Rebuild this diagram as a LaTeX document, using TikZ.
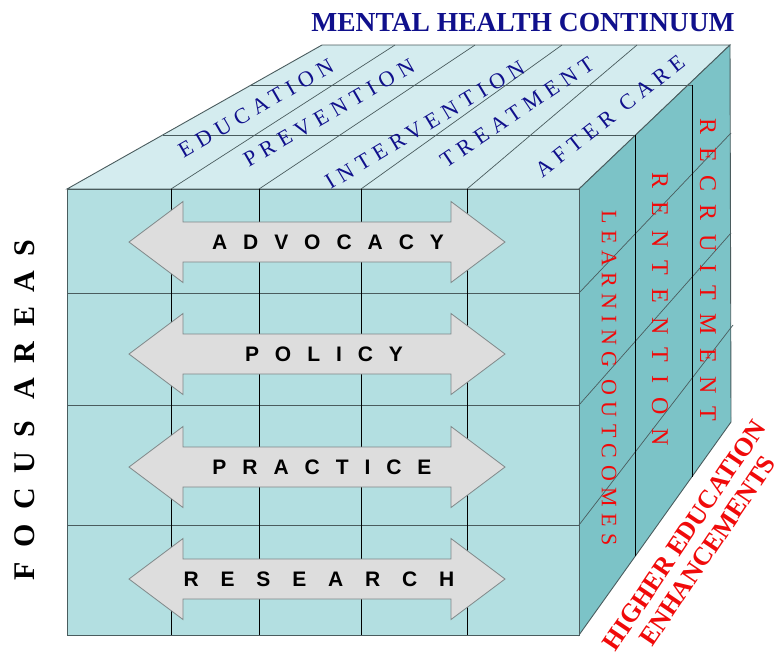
\documentclass[tikz,border=0pt]{standalone}
\usepackage{fontspec}
\setmainfont{Liberation Serif}
\newfontfamily\arrowfont{Liberation Sans}

\definecolor{topside}{HTML}{D4ECEF}
\definecolor{frontside}{HTML}{B3DFE1}
\definecolor{rightside}{HTML}{7CC3C7}
\definecolor{edgegray}{HTML}{4A5C5E}
\definecolor{arrowfill}{HTML}{DDDDDD}
\definecolor{arrowline}{HTML}{7F8788}
\definecolor{navytext}{HTML}{10108C}
\definecolor{redtext}{HTML}{F00A0A}

\tikzset{
  facefill/.style={fill=#1, draw=edgegray, line width=0.9pt},
  gridline/.style={draw=edgegray, line width=0.7pt},
  blackline/.style={draw=black, line width=0.7pt},
  arrowbox/.style={fill=arrowfill, draw=arrowline, line width=0.8pt},
  toplabel/.style={text=navytext, inner sep=0pt,
    font=\fontsize{22}{24}\selectfont\addfontfeature{LetterSpace=28}},
  sidelabel/.style 2 args={text=redtext, inner sep=0pt, rotate=-90,
    font=\fontsize{#1}{#1}\selectfont\addfontfeature{LetterSpace=#2}}
}

\begin{document}
\begin{tikzpicture}[x=1pt, y=-1pt]
  \useasboundingbox (0,0) rectangle (775,654);

  % corners of the cube
  \coordinate (ftl) at (67,189);
  \coordinate (ftr) at (579,189);
  \coordinate (fbl) at (67,635);
  \coordinate (fbr) at (579,635);
  \coordinate (btl) at (322,45);
  \coordinate (btr) at (730,45);
  \coordinate (bbr) at (731,422);

  % the three faces
  \filldraw[facefill=topside] (ftl) -- (btl) -- (btr) -- (ftr) -- cycle;
  \filldraw[facefill=rightside] (ftr) -- (btr) -- (bbr) -- (fbr) -- cycle;
  \filldraw[facefill=frontside] (ftl) rectangle (fbr);

  % top face
  \draw[gridline] (163,135) -- (635,135);
  \draw[gridline] (251,85) -- (692,85);
  \draw[gridline] (171,189) -- (395,45);
  \draw[gridline] (259,189) -- (475,45);
  \draw[gridline] (361,189) -- (562,45);
  \draw[gridline] (467,189) -- (637,45);

  % right face
  \draw[gridline] (579,293) -- (731,133);
  \draw[gridline] (579,405) -- (731,233);
  \draw[gridline] (579,525) -- (733,325);
  \draw[blackline] (635,135) -- (635,556);
  \draw[blackline] (692,85) -- (692,477);

  % front face
  \foreach \yy in {293,405,525}
    \draw[gridline] (67,\yy) -- (579,\yy);
  \foreach \xx in {171,259,361,467}
    \draw[blackline] (\xx,189) -- (\xx,635);

  % focus area arrows
  \foreach \yy/\lbl/\ls/\cx [count=\i] in {242/ADVOCACY/76/328, 354/POLICY/76/324,
      467/PRACTICE/76/322, 579/RESEARCH/104/319} {
    \filldraw[arrowbox] (129,\yy) -- (183,{\yy-40.5}) -- (183,{\yy-20}) -- (451,{\yy-20})
      -- (451,{\yy-40.5}) -- (505,\yy) -- (451,{\yy+40.5}) -- (451,{\yy+20})
      -- (183,{\yy+20}) -- (183,{\yy+40.5}) -- cycle;
    \node[inner sep=0pt, font=\arrowfont\bfseries\fontsize{21}{24}\selectfont\addfontfeature{LetterSpace=\ls}]
      (area\i) at (\cx,\yy) {\lbl};
  }

  % continuum labels on top
  \node[toplabel, rotate=30] (education) at (256,108) {EDUCATION};
  \node[toplabel, rotate=30] (prevention) at (329,113) {PREVENTION};
  \node[toplabel, rotate=31] (intervention) at (425,125) {INTERVENTION};
  \node[toplabel, rotate=34] (treatment) at (517,112) {TREATMENT};
  \node[toplabel, rotate=38] (aftercare) at (610,116) {AFTER CARE};

  % enhancement labels on the side
  \node[sidelabel={22}{29}] (learning) at (609,378) {LEARNING OUTCOMES};
  \node[sidelabel={24}{56}] (retention) at (660,309) {RENTENTION};
  \node[sidelabel={24}{55}] (recruitment) at (708,270) {RECRUITMENT};

  % titles
  \node[text=navytext, font=\bfseries\fontsize{27.5}{30}\selectfont] (continuum) at (523,23)
    {MENTAL HEALTH CONTINUUM};
  \node[rotate=90, font=\bfseries\fontsize{30}{30}\selectfont\addfontfeature{LetterSpace=48}]
    (focus) at (25,410) {FOCUS AREAS};
  \node[rotate=56, text=redtext, align=center, inner sep=0pt,
    font=\bfseries\fontsize{26}{28}\selectfont] (higher) at (696,543)
    {HIGHER EDUCATION\\ENHANCEMENTS};
\end{tikzpicture}
\end{document}
